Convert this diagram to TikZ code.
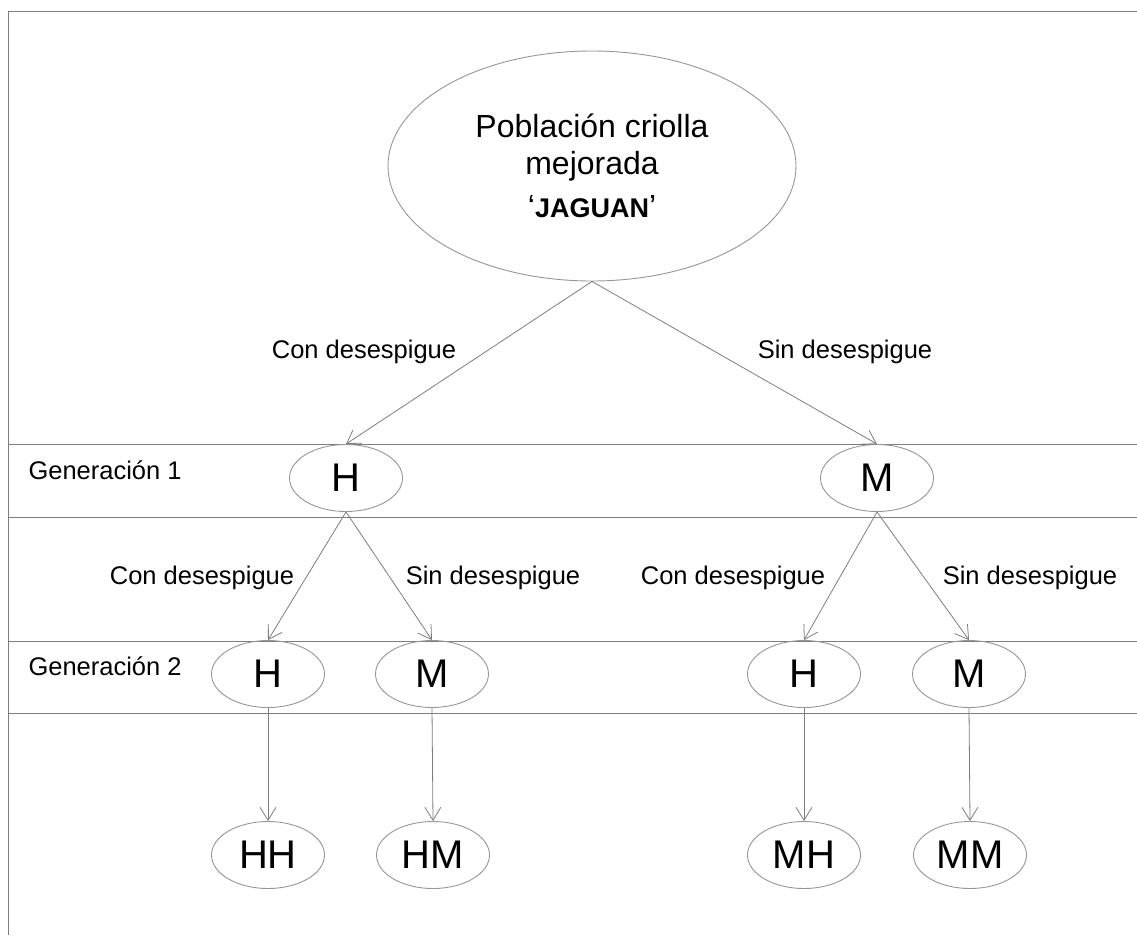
\documentclass[tikz,border=0pt]{standalone}
\usepackage{fontspec}
\setmainfont{Liberation Sans}
\usetikzlibrary{shapes.geometric,arrows.meta}

\definecolor{lineGray}{RGB}{125,125,125}
\definecolor{ovalGray}{RGB}{150,150,150}

\tikzset{
  oval/.style={ellipse, draw=ovalGray, line width=0.9pt, inner sep=0pt,
               minimum width=113pt, minimum height=67pt,
               font=\fontsize{40}{44}\selectfont},
  branch/.style={font=\fontsize{25.5}{30}\selectfont},
  link/.style={draw=lineGray, line width=0.8pt,
               -{Straight Barb[length=13pt,width=16pt,line width=0.8pt]}}
}

\begin{document}
\begin{tikzpicture}[x=1pt,y=-1pt]

        \useasboundingbox (0,0) rectangle (1137,935);

        % frame and generation bands
        \draw[lineGray, line width=1pt] (1137,11) -- (8,11) -- (8,935);
        \draw[lineGray, line width=1pt] (8,444) -- (1137,444);
        \draw[lineGray, line width=1pt] (8,517) -- (1137,517);
        \draw[lineGray, line width=1pt] (8,641) -- (1137,641);
        \draw[lineGray, line width=1pt] (8,713) -- (1137,713);

        \node[branch, anchor=west] (gen1) at (25,470) {Generación 1};
        \node[branch, anchor=west] (gen2) at (25,666) {Generación 2};

        \node[ellipse, draw=ovalGray, line width=0.9pt, inner sep=0pt,
              minimum width=408pt, minimum height=230pt, align=center,
              font=\fontsize{32}{37}\selectfont] (pop) at (592,166)
          {Población criolla\\ mejorada\\[6pt]
           ‘{\fontsize{27}{32}\selectfont\bfseries JAGUAN}’};

        \begin{scope}[every node/.style={oval}]
          \node (h)  at (346,478) {H};
          \node (m)  at (877,478) {M};
          \node (hh) at (268,674) {H};
          \node (hm) at (432,674) {M};
          \node (mh) at (804,674) {H};
          \node (mm) at (969,674) {M};
          \node (hhx) at (268,855) {HH};
          \node (hmx) at (433,855) {HM};
          \node (mhx) at (804,855) {MH};
          \node (mmx) at (970,855) {MM};
        \end{scope}

        \begin{scope}[every node/.style={branch}]
          \node (c0) at (364,352)  {Con desespigue};
          \node (s0) at (845,352)  {Sin desespigue};
          \node (c1) at (202,578)  {Con desespigue};
          \node (s1) at (493,578)  {Sin desespigue};
          \node (c2) at (733,578)  {Con desespigue};
          \node (s2) at (1030,578) {Sin desespigue};
        \end{scope}

        \begin{scope}[every path/.style={link}]
          \path (pop.south) -- (h.north);
          \path (pop.south) -- (m.north);
          \path (h.south)   -- (hh.north);
          \path (h.south)   -- (hm.north);
          \path (m.south)   -- (mh.north);
          \path (m.south)   -- (mm.north);
          \path (hh.south)  -- (hhx.north);
          \path (hm.south)  -- (hmx.north);
          \path (mh.south)  -- (mhx.north);
          \path (mm.south)  -- (mmx.north);
        \end{scope}

      \end{tikzpicture}
\end{document}
